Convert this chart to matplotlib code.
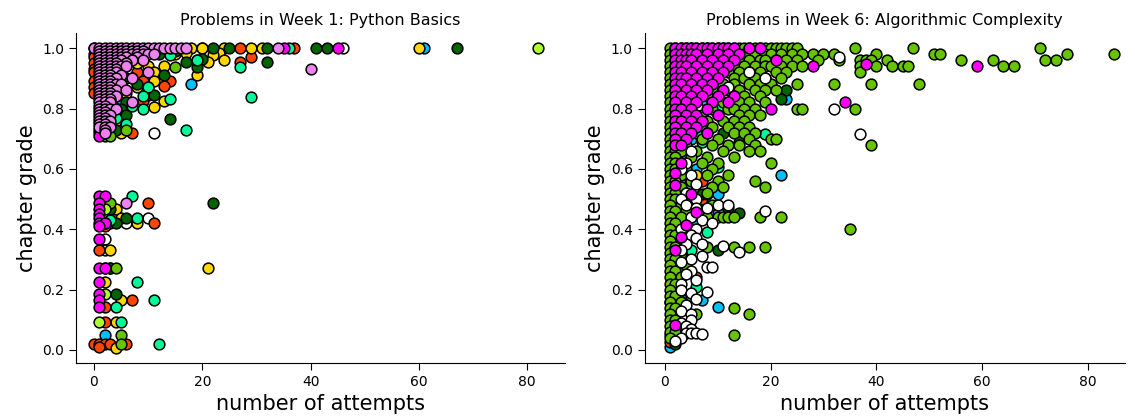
import matplotlib
matplotlib.use("Agg")
import matplotlib.pyplot as plt
import numpy as np

# each series: list of (chapter grade, [number of attempts at that grade])

# ---- week 1: python basics ----
w1_white = [(1.0, [46]), (0.72, [11]), (0.438, [10]), (0.42, [6]), (0.367, [2]), (0.331, [2])]
w1_blue = [(1.0, [61]), (0.96, [3]), (0.88, [18]), (0.83, [5]), (0.74, [4]), (0.42, [3]), (0.05, [2])]
w1_orangered = [
    (1.0, [0, 20, 27, 37]), (0.98, [0]), (0.97, [0, 29]), (0.955, [27]), (0.95, [0]),
    (0.94, [6]), (0.93, [0]), (0.92, [0, 8]), (0.89, [0, 9, 14]), (0.874, [13]),
    (0.87, [0]), (0.86, [5]), (0.85, [0]), (0.825, [9]), (0.8, [6]), (0.78, [3]), (0.72, [7]),
    (0.486, [10]), (0.438, [4]), (0.42, [11]), (0.41, [2]), (0.331, [1]),
    (0.166, [7]), (0.142, [2]), (0.093, [2]), (0.02, [0, 1, 2, 3, 6]), (0.01, [1]),
]
w1_gold = [
    (1.0, [18, 20, 24, 29, 31, 60]), (0.985, [17, 23]), (0.98, [15]), (0.977, [22]),
    (0.96, [19, 24]), (0.954, [21]), (0.95, [8]), (0.94, [10, 13]), (0.93, [5]),
    (0.92, [11]), (0.91, [19]), (0.9, [7]), (0.89, [11]), (0.87, [8]), (0.85, [6]),
    (0.84, [4]), (0.825, [13]), (0.805, [11]), (0.79, [5]), (0.76, [4]), (0.74, [3]),
    (0.72, [5]),
    (0.486, [2]), (0.467, [4]), (0.438, [2, 5]), (0.42, [8]), (0.331, [3]),
    (0.27, [3, 21]), (0.226, [2]), (0.166, [5]), (0.093, [4]), (0.005, [4]),
]
w1_darkgreen = [
    (1.0, [22, 25, 32, 41, 43, 67]), (0.99, [15]), (0.98, [12]), (0.97, [7]), (0.964, [20]),
    (0.955, [17, 32]), (0.937, [19]), (0.91, [13]), (0.9, [6]), (0.88, [8]), (0.87, [10]),
    (0.845, [10, 11]), (0.83, [3]), (0.82, [6]), (0.8, [5]), (0.78, [6]), (0.764, [14]),
    (0.73, [4]),
    (0.486, [22]), (0.467, [3]), (0.438, [6]), (0.42, [4]), (0.27, [3]), (0.185, [4]),
]
w1_springgreen = [
    (1.0, [36]), (0.977, [14]), (0.96, [19]), (0.937, [27]), (0.87, [10]),
    (0.84, [9]), (0.838, [29]), (0.83, [14]), (0.81, [7]), (0.8, [9]), (0.77, [4]),
    (0.75, [6]), (0.728, [17]),
    (0.511, [7]), (0.438, [8]), (0.43, [3]), (0.226, [8]), (0.166, [11]),
    (0.142, [4]), (0.093, [5]), (0.02, [12]),
]
w1_yellowgreen = [(0.937, [15]), (0.73, [6]), (0.71, [2, 3]), (0.486, [3]), (0.27, [4]),
                  (0.05, [5]), (0.02, [5])]
w1_greenyellow = [(1.0, [82]), (0.82, [3]), (0.74, [2]), (0.467, [2]), (0.42, [2]),
                  (0.27, [2]), (0.185, [2]), (0.093, [1])]
w1_magenta = [
    (1.0, [35, 45]), (0.73, [1]), (0.72, [1]), (0.71, [1]),
    (0.511, [1, 2]), (0.486, [1]), (0.467, [1]), (0.45, [1]), (0.438, [1]),
    (0.42, [1, 2]), (0.41, [1]), (0.367, [1]), (0.27, [1, 2]), (0.226, [1]),
    (0.185, [1]), (0.166, [1]), (0.142, [1]),
]
w1_violet = [
    (1.0, [0, 1, 2, 3, 4, 5, 6, 7, 8, 9, 10, 11, 12, 13, 14, 15, 16, 17, 34]),
    (0.99, [1, 2, 3, 4, 5, 6, 7, 8, 9]),
    (0.98, [1, 2, 3, 4, 5, 6, 7, 8, 9, 10, 11]),
    (0.97, [1, 2, 3, 4, 5, 6, 8]),
    (0.96, [1, 2, 3, 4, 5, 7, 9]),
    (0.95, [1, 2, 3, 4, 6]),
    (0.94, [1, 2, 3, 4, 5, 6]),
    (0.93, [1, 2, 3, 4, 40]),
    (0.92, [1, 2, 3, 4, 10]),
    (0.91, [1, 2, 3, 5]),
    (0.90, [1, 2, 3, 4, 7]),
    (0.89, [1, 2, 3]),
    (0.88, [1, 2, 3, 4, 5]),
    (0.87, [1, 2, 3]),
    (0.86, [1, 2, 3, 4, 6]),
    (0.85, [1, 2, 3]),
    (0.84, [1, 2, 3, 4]),
    (0.83, [1, 2, 3]),
    (0.82, [1, 2, 3, 7]),
    (0.81, [1, 2]),
    (0.80, [1, 2, 3, 4]),
    (0.79, [1, 2]),
    (0.78, [1, 2, 3]),
    (0.77, [1, 2]),
    (0.76, [1, 2, 3]),
    (0.75, [1, 2]),
    (0.74, [1, 2, 3]),
    (0.73, [2]),
    (0.72, [2]),
    (0.486, [6]),
]

# ---- week 6: algorithmic complexity ----
w6_white = [
    (0.99, [2]), (0.98, [12]), (0.97, [3, 33]), (0.96, [7]), (0.93, [11]), (0.92, [16]),
    (0.9, [19]), (0.87, [12]), (0.85, [6]), (0.8, [32]), (0.715, [37]),
    (0.66, [5]), (0.62, [4]), (0.6, [3]), (0.58, [5]), (0.55, [6]), (0.52, [4]),
    (0.5, [3, 6]), (0.48, [4, 10, 12]), (0.47, [6, 8]), (0.46, [19]), (0.44, [5]),
    (0.43, [7]), (0.42, [9]), (0.41, [4]), (0.4, [3, 6]), (0.38, [5]), (0.37, [6]),
    (0.35, [4, 7]), (0.344, [11]), (0.33, [3]), (0.325, [14]), (0.31, [7]), (0.3, [5]),
    (0.29, [3]), (0.276, [8]), (0.275, [9]), (0.26, [5]), (0.25, [4]), (0.23, [6]),
    (0.22, [3]), (0.2, [3]), (0.193, [8]), (0.19, [5]), (0.17, [6]), (0.15, [4]),
    (0.13, [3]), (0.12, [5]), (0.1, [5]), (0.09, [3]), (0.08, [4]), (0.07, [5]),
    (0.056, [4, 5, 6]), (0.053, [7]), (0.04, [3]), (0.03, [2]),
]
w6_blue = [
    (0.98, [14]), (0.9, [16]), (0.85, [13]), (0.83, [23]), (0.82, [8]), (0.73, [7]),
    (0.7, [5]), (0.64, [3]), (0.6, [6]), (0.58, [22]), (0.517, [10]), (0.456, [10]),
    (0.43, [6]), (0.165, [4, 7]), (0.143, [10]), (0.011, [1]),
]
w6_orangered = [(0.62, [3]), (0.56, [7]), (0.5, [7]), (0.46, [6]), (0.39, [5]),
                (0.24, [6]), (0.025, [1])]
w6_gold = [(0.58, [6])]
w6_darkgreen = [
    (0.96, [16]), (0.862, [23]), (0.86, [9]), (0.83, [22]), (0.72, [11]), (0.69, [14]),
    (0.517, [7, 8]), (0.47, [12]), (0.455, [14]), (0.33, [4, 10]), (0.07, [3]), (0.02, [2]),
]
w6_springgreen = [
    (0.8, [10]), (0.77, [5]), (0.72, [6]), (0.715, [19]), (0.69, [7]), (0.607, [10]),
    (0.55, [3]), (0.54, [4]), (0.39, [8]), (0.33, [5]), (0.21, [6]), (0.05, [1]),
]
w6_greenyellow = [(0.5, [2]), (0.45, [2]), (0.3, [3]), (0.27, [2]), (0.2, [2]),
                  (0.16, [1]), (0.1, [2]), (0.06, [2])]
w6_green = [
    (1.00, [1, 2, 3, 4, 5, 6, 7, 8, 9, 10, 11, 12, 13, 14, 15, 16, 17, 18, 19, 20, 21, 22, 23, 24, 25, 36, 47, 71]),
    (0.98, [1, 2, 3, 4, 5, 6, 9, 11, 13, 15, 17, 19, 20, 22, 24, 26, 28, 30, 32, 40, 51, 52, 76, 85]),
    (0.96, [1, 2, 3, 4, 7, 10, 12, 14, 16, 18, 19, 21, 23, 25, 29, 33, 37, 38, 39, 42, 56, 62, 72, 74]),
    (0.94, [1, 2, 3, 5, 8, 11, 13, 15, 17, 19, 20, 22, 24, 26, 37, 40, 43, 45, 46, 64, 66]),
    (0.92, [1, 2, 3, 6, 9, 12, 14, 16, 18, 21, 23, 37]),
    (0.90, [1, 2, 3, 4, 10, 13, 15, 17, 19, 22]),
    (0.88, [1, 2, 3, 7, 11, 13, 16, 18, 20, 25, 32, 39, 48]),
    (0.86, [1, 2, 4, 9, 12, 14, 17, 19, 21]),
    (0.84, [1, 2, 3, 8, 10, 13, 15, 18]),
    (0.82, [1, 2, 3, 5, 11, 14, 16, 19]),
    (0.80, [1, 2, 4, 9, 12, 13, 15, 17, 25, 26, 36]),
    (0.78, [1, 2, 3, 7, 10, 14, 16, 18]),
    (0.76, [1, 2, 4, 8, 11, 13, 15]),
    (0.74, [1, 2, 3, 6, 9, 12, 14, 16]),
    (0.72, [1, 2, 5, 8, 13, 15, 17]),
    (0.70, [1, 2, 3, 7, 10, 16, 20, 21]),
    (0.68, [1, 2, 4, 9, 12, 14, 17, 39]),
    (0.66, [1, 2, 3, 6, 11, 16, 18]),
    (0.64, [1, 2, 5, 8, 13]),
    (0.62, [1, 2, 3, 7, 10, 20]),
    (0.60, [1, 2, 4, 9]),
    (0.58, [1, 2, 3, 8, 12]),
    (0.56, [1, 2, 5, 10, 17]),
    (0.54, [1, 2, 3, 9, 11, 19]),
    (0.52, [1, 2, 4, 8]),
    (0.50, [1, 2, 5]),
    (0.48, [1, 3, 9]),
    (0.46, [1, 2, 4]),
    (0.44, [1, 3, 8, 10, 11, 12, 13, 18, 22]),
    (0.42, [1, 2]),
    (0.40, [1, 5, 35]),
    (0.38, [1, 2]),
    (0.36, [1, 3]),
    (0.34, [1, 2, 8, 13, 16, 19]),
    (0.32, [1, 3]),
    (0.30, [1, 2]),
    (0.28, [1, 4]),
    (0.26, [1, 2]),
    (0.24, [1, 3]),
    (0.22, [1, 2]),
    (0.20, [1]),
    (0.18, [1, 2, 5]),
    (0.16, [1, 3]),
    (0.14, [1, 2, 13]),
    (0.12, [1, 6, 16]),
    (0.10, [1, 2]),
    (0.08, [1]),
    (0.06, [1, 2]),
    (0.05, [13]),
    (0.04, [1]),
]
w6_magenta = [
    (1.00, [2, 3, 4, 5, 6, 7, 8, 9, 10, 11, 12, 13, 16, 18]),
    (0.98, [2, 3, 4, 5, 6, 8, 10, 12, 14]),
    (0.96, [2, 3, 4, 5, 7, 9, 11, 13, 21]),
    (0.94, [2, 3, 4, 6, 8, 10, 12, 28, 59]),
    (0.946, [38]),
    (0.92, [2, 3, 5, 7, 9, 11]),
    (0.90, [2, 3, 4, 6, 8, 10]),
    (0.88, [2, 3, 5, 7, 9]),
    (0.86, [2, 4, 6, 8, 11]),
    (0.84, [2, 3, 5, 7, 10, 13]),
    (0.82, [2, 4, 6, 9, 12, 34]),
    (0.80, [2, 3, 5, 8, 20]),
    (0.78, [2, 4, 6, 10]),
    (0.76, [2, 3, 5, 7]),
    (0.74, [2, 4, 6]),
    (0.72, [2, 3, 5, 8]),
    (0.70, [2, 4]),
    (0.68, [2, 3]),
    (0.62, [3]),
    (0.585, [2]),
    (0.546, [2]),
    (0.517, [5]),
    (0.456, [6]),
    (0.415, [4]),
    (0.375, [3]),
    (0.33, [2]),
    (0.083, [2]),
]


def expand(rows):
    xs, ys = [], []
    for grade, attempts in rows:
        for a in attempts:
            xs.append(a)
            ys.append(grade)
    return np.array(xs), np.array(ys)


week1 = [
    (w1_white, "white"), (w1_blue, "deepskyblue"), (w1_orangered, "orangered"),
    (w1_gold, "gold"), (w1_darkgreen, "darkgreen"), (w1_springgreen, "mediumspringgreen"),
    (w1_yellowgreen, "#66c400"), (w1_greenyellow, "greenyellow"),
    (w1_magenta, "magenta"), (w1_violet, "violet"),
]
week6 = [
    (w6_blue, "deepskyblue"), (w6_orangered, "orangered"),
    (w6_gold, "gold"), (w6_darkgreen, "darkgreen"), (w6_springgreen, "mediumspringgreen"),
    (w6_greenyellow, "greenyellow"), (w6_green, "#66c400"), (w6_white, "white"),
    (w6_magenta, "magenta"),
]

fig = plt.figure(figsize=(11.35, 4.19), dpi=100)
ax1 = fig.add_axes([0.067, 0.134, 0.431, 0.787])
ax2 = fig.add_axes([0.568, 0.134, 0.423, 0.787])

for ax, groups, title, xlim in [
    (ax1, week1, "Problems in Week 1: Python Basics", (-3.3, 87)),
    (ax2, week6, "Problems in Week 6: Algorithmic Complexity", (-3.8, 87)),
]:
    for rows, color in groups:
        x, y = expand(rows)
        ax.scatter(x, y, s=60, c=color, edgecolors="black", linewidths=1.1, zorder=3)
    ax.set_xlim(*xlim)
    ax.set_ylim(-0.043, 1.05)
    ax.set_xticks([0, 20, 40, 60, 80])
    ax.set_yticks([0.0, 0.2, 0.4, 0.6, 0.8, 1.0])
    ax.spines["top"].set_visible(False)
    ax.spines["right"].set_visible(False)
    ax.tick_params(labelsize=10, length=5)
    ax.set_title(title, fontsize=11.5)
    ax.set_xlabel("number of attempts", fontsize=15)
    ax.set_ylabel("chapter grade", fontsize=15)

fig.savefig("out.png", dpi=100)
